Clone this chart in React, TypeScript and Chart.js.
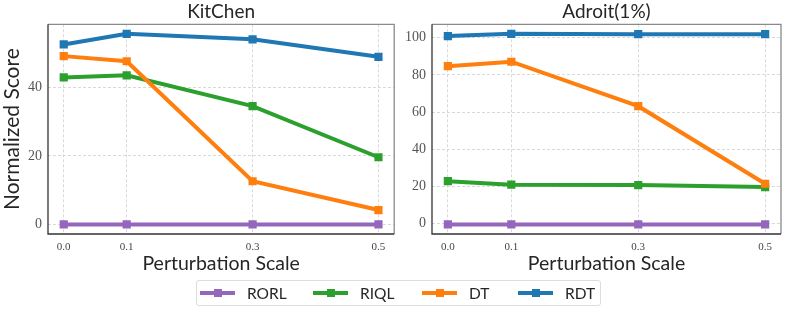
import React, { useEffect, useRef } from "react";
import { Chart, registerables } from "chart.js";
Chart.register(...registerables);

const perturbation = [0.0, 0.1, 0.3, 0.5];
const xTickLabels = ["0.0", "0.1", "0.3", "0.5"];
const methods = ["RORL", "RIQL", "DT", "RDT"];
const methodColors = ["#9467bd", "#2ca02c", "#ff7f0e", "#1f77b4"];

const kitchenRORL = [0, 0, 0, 0];
const kitchenRIQL = [42.9, 43.5, 34.5, 19.6];
const kitchenDT = [49.1, 47.6, 12.6, 4.2];
const kitchenRDT = [52.5, 55.6, 54.0, 48.9];
const kitchenYTicks = [0, 20, 40];

const adroitRORL = [-0.4, -0.4, -0.4, -0.4];
const adroitRIQL = [22.9, 21.0, 20.8, 19.7];
const adroitDT = [84.7, 87.1, 63.2, 21.5];
const adroitRDT = [100.9, 102.1, 101.9, 101.9];
const adroitYTicks = [0, 20, 40, 60, 80, 100];

const SANS = "Lato, 'Open Sans', sans-serif";
const SERIF = "'Liberation Serif', 'DejaVu Serif', serif";

const boxPlugin = {
  id: "box",
  afterDatasetsDraw(chart: any) {
    const { ctx, chartArea } = chart;
    const { left, top, right, bottom } = chartArea;
    ctx.save();
    ctx.lineWidth = 1.3;
    ctx.strokeStyle = "#8a8a8a";
    ctx.beginPath();
    ctx.moveTo(left, top);
    ctx.lineTo(right, top);
    ctx.lineTo(right, bottom);
    ctx.stroke();
    ctx.strokeStyle = "#333333";
    ctx.beginPath();
    ctx.moveTo(left, top);
    ctx.lineTo(left, bottom);
    ctx.lineTo(right, bottom);
    ctx.stroke();
    ctx.restore();
  },
};

type PanelProps = {
  title: string;
  series: number[][];
  yTicks: number[];
  yTitle?: string;
  width: number;
  height: number;
  yAxisWidth: number;
  xAxisHeight: number;
  padRight: number;
  left: number;
};

function Panel(p: PanelProps) {
  const ref = useRef<HTMLCanvasElement | null>(null);
  useEffect(() => {
    if (!ref.current) return;
    const all = p.series.flat();
    const dmin = Math.min(...all);
    const dmax = Math.max(...all);
    const m = (dmax - dmin) * 0.05;
    const xr = perturbation[perturbation.length - 1] - perturbation[0];
    const chart = new Chart(ref.current, {
      type: "line",
      data: {
        datasets: p.series.map((vals, i) => ({
          label: methods[i],
          data: vals.map((v, j) => ({ x: perturbation[j], y: v })),
          borderColor: methodColors[i],
          backgroundColor: methodColors[i],
          borderWidth: 4,
          pointStyle: "rect",
          pointRadius: 5.8,
          pointBorderWidth: 0,
          pointBackgroundColor: methodColors[i],
          tension: 0,
          order: methods.length - i,
        })),
      },
      options: {
        animation: false,
        responsive: false,
        events: [],
        layout: { padding: { top: 0, right: p.padRight, left: 0, bottom: 0 } },
        plugins: {
          legend: { display: false },
          tooltip: { enabled: false },
          title: {
            display: true,
            text: p.title,
            fullSize: false,
            color: "#262626",
            font: { family: SANS, size: 19, weight: "normal" },
            padding: { top: 0, bottom: 1.5 },
          },
        },
        scales: {
          x: {
            type: "linear",
            min: perturbation[0] - xr * 0.05,
            max: perturbation[perturbation.length - 1] + xr * 0.05,
            afterBuildTicks: (s: any) => {
              s.ticks = perturbation.map((v) => ({ value: v }));
            },
            afterFit: (s: any) => {
              s.height = p.xAxisHeight;
            },
            ticks: {
              callback: (_v: any, i: number) => xTickLabels[i],
              color: "#444444",
              font: { family: SERIF, size: 11 },
              padding: 7,
              maxRotation: 0,
            },
            grid: { color: "#cfcfcf", lineWidth: 0.8, drawTicks: false },
            border: { display: false, dash: [3, 2] },
            title: {
              display: true,
              text: "Perturbation Scale",
              color: "#262626",
              font: { family: SANS, size: 19.5 },
              padding: { top: 0, bottom: 7 },
            },
          },
          y: {
            type: "linear",
            min: dmin - m,
            max: dmax + m,
            afterBuildTicks: (s: any) => {
              s.ticks = p.yTicks.map((v) => ({ value: v }));
            },
            afterFit: (s: any) => {
              s.width = p.yAxisWidth;
            },
            ticks: {
              color: "#555555",
              font: { family: SERIF, size: 14 },
              padding: 6,
            },
            grid: { color: "#cfcfcf", lineWidth: 0.8, drawTicks: false },
            border: { display: false, dash: [3, 2] },
            title: {
              display: !!p.yTitle,
              text: p.yTitle || "",
              color: "#262626",
              font: { family: SANS, size: 21 },
              padding: { top: 0, bottom: 0 },
            },
          },
        },
      },
      plugins: [boxPlugin],
    } as any);
    return () => chart.destroy();
  }, []);
  return (
    <canvas
      ref={ref}
      width={p.width}
      height={p.height}
      style={{ position: "absolute", left: p.left, top: 0, width: p.width, height: p.height }}
    />
  );
}

const legendSampleX = [200, 313, 422, 518];

export default function App() {
  return (
    <div
      style={{
        position: "fixed",
        left: 0,
        top: 0,
        width: 797,
        height: 313,
        background: "#ffffff",
        overflow: "hidden",
      }}
    >
      <Panel
        title="KitChen"
        series={[kitchenRORL, kitchenRIQL, kitchenDT, kitchenRDT]}
        yTicks={kitchenYTicks}
        yTitle="Normalized Score"
        width={400}
        height={282}
        yAxisWidth={48}
        xAxisHeight={48}
        padRight={3}
        left={0}
      />
      <Panel
        title="Adroit(1%)"
        series={[adroitRORL, adroitRIQL, adroitDT, adroitRDT]}
        yTicks={adroitYTicks}
        width={397}
        height={282}
        yAxisWidth={32}
        xAxisHeight={48}
        padRight={16}
        left={400}
      />
      <div
        style={{
          position: "absolute",
          left: 196,
          top: 280,
          width: 405,
          height: 26,
          border: "1px solid #dddddd",
          borderRadius: 3,
          boxSizing: "border-box",
        }}
      />
      {methods.map((name, i) => (
        <div key={name}>
          <div
            style={{
              position: "absolute",
              left: legendSampleX[i],
              top: 291,
              width: 35,
              height: 4,
              background: methodColors[i],
            }}
          />
          <div
            style={{
              position: "absolute",
              left: legendSampleX[i] + 13.5,
              top: 289,
              width: 8,
              height: 8,
              background: methodColors[i],
            }}
          />
          <div
            style={{
              position: "absolute",
              left: legendSampleX[i] + 47,
              top: 283,
              fontFamily: SANS,
              fontSize: 15.5,
              lineHeight: "20px",
              color: "#262626",
            }}
          >
            {name}
          </div>
        </div>
      ))}
    </div>
  );
}
